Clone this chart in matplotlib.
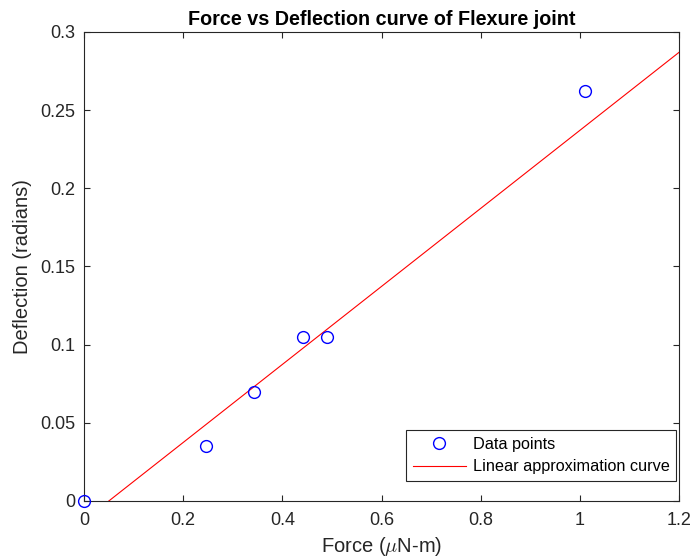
import matplotlib.pyplot as plt

plt.rcParams['font.family'] = ['Liberation Sans', 'DejaVu Sans']
plt.rcParams['mathtext.fontset'] = 'cm'

# measured points
force = [0.0, 0.245, 0.343, 0.442, 0.49, 1.01]
deflection = [0.0, 0.035, 0.07, 0.105, 0.105, 0.262]

# linear approximation curve (end points)
line_x = [0.0, 1.2]
line_y = [-0.0125, 0.2870]

xticks = [0, 0.2, 0.4, 0.6, 0.8, 1, 1.2]
xtick_labels = ['0', '0.2', '0.4', '0.6', '0.8', '1', '1.2']
yticks = [0, 0.05, 0.1, 0.15, 0.2, 0.25, 0.3]
ytick_labels = ['0', '0.05', '0.1', '0.15', '0.2', '0.25', '0.3']

fig = plt.figure(figsize=(6.93, 5.6), dpi=100)
ax = fig.add_axes([0.1212, 0.1054, 0.8588, 0.8376])

ax.plot(force, deflection, 'o', color='blue', markerfacecolor='none',
        markersize=8.5, markeredgewidth=1.0, label='Data points', clip_on=False, zorder=3)
ax.plot(line_x, line_y, '-', color='red', linewidth=0.8, label='Linear approximation curve')

ax.set_xlim(0, 1.2)
ax.set_ylim(0, 0.3)
ax.set_xticks(xticks)
ax.set_xticklabels(xtick_labels)
ax.set_yticks(yticks)
ax.set_yticklabels(ytick_labels)

for s in ax.spines.values():
    s.set_color('#262626')
    s.set_linewidth(0.8)
ax.tick_params(direction='in', top=True, right=True, labelsize=13,
               colors='#262626', length=4.5, width=0.8)
ax.tick_params(axis='x', pad=8)
ax.tick_params(axis='y', pad=6.5)

ax.set_title('Force vs Deflection curve of Flexure joint', fontsize=14.2, fontweight='bold', pad=5)
ax.set_xlabel(r'Force ($\mu$N-m)', fontsize=14.5, color='#262626', labelpad=4)
ax.set_ylabel('Deflection (radians)', fontsize=14.5, color='#262626', labelpad=6)

leg = ax.legend(loc='lower right', bbox_to_anchor=(0.995, 0.043), borderaxespad=0,
                fontsize=11.7, fancybox=False, framealpha=1,
                edgecolor='#262626', handlelength=3.3, handletextpad=0.4,
                borderpad=0.4, labelspacing=0.45)
leg.get_frame().set_linewidth(0.8)

fig.savefig('out.png', dpi=100)
